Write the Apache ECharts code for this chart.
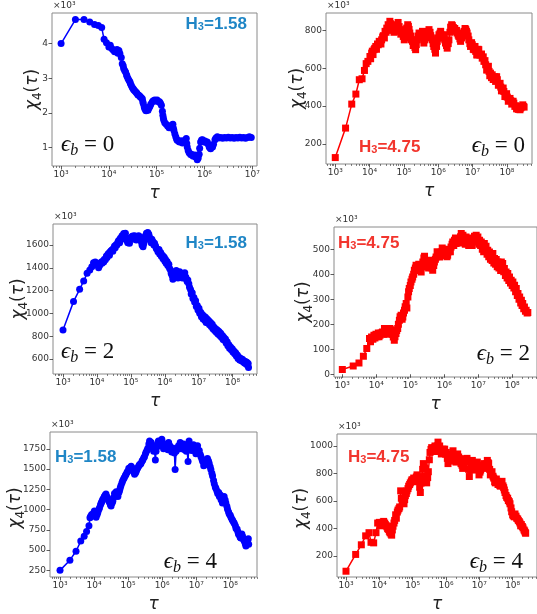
<!DOCTYPE html>
<html>
<head>
<meta charset="utf-8">
<script src="https://cdn.jsdelivr.net/npm/echarts@6/dist/echarts.min.js"></script>
<style>
  html, body { margin: 0; padding: 0; background: #ffffff; }
  #chart { width: 537px; height: 614px; }
</style>
</head>
<body>
<div id="chart"></div>
<script>
// chi_4(tau) in units of 10^3, points given as [log10(tau), chi_4]
const chi4_H158_eb0 = [
  [3.00,4.00],[3.30,4.69],[3.48,4.69],[3.60,4.62],[3.70,4.55],[3.78,4.52],[3.85,4.46],[3.90,4.12],[3.95,4.02],[4.00,3.90],
  [4.03,3.95],[4.06,3.86],[4.09,3.81],[4.12,3.76],[4.14,3.79],[4.17,3.83],[4.19,3.72],[4.21,3.80],[4.23,3.71],[4.26,3.60],
  [4.28,3.42],[4.30,3.36],[4.31,3.28],[4.33,3.22],[4.35,3.18],[4.37,3.10],[4.38,3.06],[4.40,2.99],[4.42,2.94],[4.44,2.90],
  [4.45,2.85],[4.47,2.79],[4.49,2.73],[4.51,2.70],[4.52,2.67],[4.54,2.64],[4.56,2.61],[4.58,2.58],[4.59,2.56],[4.61,2.52],
  [4.63,2.51],[4.65,2.48],[4.66,2.46],[4.68,2.44],[4.70,2.41],[4.71,2.33],[4.72,2.27],[4.74,2.18],[4.75,2.13],[4.77,2.08],
  [4.78,2.06],[4.80,2.10],[4.82,2.08],[4.84,2.14],[4.86,2.19],[4.88,2.26],[4.91,2.32],[4.93,2.35],[4.96,2.37],[4.98,2.34],
  [5.01,2.37],[5.03,2.33],[5.06,2.32],[5.08,2.28],[5.10,2.22],[5.12,2.05],[5.13,1.93],[5.14,1.85],[5.15,1.79],[5.17,1.72],
  [5.20,1.67],[5.23,1.62],[5.26,1.57],[5.28,1.62],[5.31,1.60],[5.33,1.66],[5.34,1.67],[5.35,1.56],[5.36,1.50],[5.38,1.40],
  [5.40,1.31],[5.42,1.24],[5.43,1.21],[5.46,1.18],[5.48,1.16],[5.51,1.20],[5.54,1.13],[5.56,1.18],[5.59,1.21],[5.62,1.26],
  [5.63,1.12],[5.64,1.02],[5.66,0.92],[5.68,0.85],[5.71,0.80],[5.73,0.81],[5.75,0.77],[5.77,0.75],[5.80,0.79],[5.82,0.73],
  [5.84,0.70],[5.85,0.65],[5.87,0.70],[5.89,0.81],[5.90,0.98],[5.92,1.16],[5.94,1.22],[5.96,1.23],[5.98,1.17],[6.01,1.19],
  [6.03,1.15],[6.06,1.16],[6.08,1.10],[6.10,1.02],[6.12,0.99],[6.13,0.97],[6.15,1.05],[6.17,1.02],[6.19,1.10],[6.22,1.23],
  [6.24,1.28],[6.27,1.31],[6.30,1.28],[6.34,1.29],[6.38,1.27],[6.42,1.29],[6.46,1.28],[6.50,1.30],[6.54,1.28],[6.58,1.29],
  [6.62,1.27],[6.66,1.29],[6.70,1.28],[6.74,1.30],[6.78,1.28],[6.82,1.29],[6.86,1.27],[6.90,1.29],[6.94,1.31],[6.98,1.29]
];

const chi4_H475_eb0 = [
  [3.00,127],[3.30,283],[3.48,410],[3.60,463],[3.70,539],[3.78,544],[3.85,588],[3.90,624],[3.95,636],[4.01,662],
  [4.03,650],[4.06,680],[4.08,690],[4.10,672],[4.13,698],[4.15,705],[4.18,715],[4.20,700],[4.23,728],[4.25,724],
  [4.28,742],[4.30,736],[4.33,728],[4.35,750],[4.38,765],[4.40,772],[4.43,760],[4.45,795],[4.48,790],[4.50,812],
  [4.52,805],[4.54,830],[4.57,815],[4.59,848],[4.61,835],[4.64,821],[4.66,800],[4.69,812],[4.71,790],[4.74,804],
  [4.76,820],[4.79,830],[4.81,815],[4.83,842],[4.86,820],[4.88,795],[4.91,780],[4.93,804],[4.96,785],[4.98,768],
  [5.01,750],[5.03,760],[5.06,790],[5.08,812],[5.11,830],[5.13,821],[5.15,805],[5.17,786],[5.20,770],[5.22,750],
  [5.25,742],[5.27,720],[5.29,733],[5.32,710],[5.34,698],[5.36,725],[5.39,750],[5.41,770],[5.44,786],[5.46,765],
  [5.49,777],[5.51,760],[5.54,795],[5.56,770],[5.58,733],[5.61,750],[5.63,768],[5.66,790],[5.68,786],[5.71,770],
  [5.73,804],[5.76,790],[5.78,772],[5.80,760],[5.83,750],[5.85,730],[5.87,715],[5.90,700],[5.92,680],[5.95,715],
  [5.97,742],[6.00,760],[6.02,777],[6.05,785],[6.07,795],[6.10,775],[6.12,760],[6.15,770],[6.17,777],[6.19,750],
  [6.21,733],[6.24,720],[6.26,706],[6.29,730],[6.31,750],[6.34,790],[6.36,817],[6.39,830],[6.41,825],[6.44,815],
  [6.46,804],[6.48,810],[6.50,795],[6.53,800],[6.55,786],[6.58,775],[6.60,768],[6.63,755],[6.65,742],[6.68,760],
  [6.70,777],[6.73,785],[6.75,795],[6.78,810],[6.80,804],[6.82,795],[6.84,786],[6.87,770],[6.89,750],[6.92,730],
  [6.94,715],[6.97,735],[6.99,724],[7.02,700],[7.04,698],[7.07,715],[7.09,689],[7.12,670],[7.14,671],[7.16,700],
  [7.18,698],[7.21,670],[7.23,671],[7.26,675],[7.28,653],[7.31,660],[7.33,636],[7.36,640],[7.38,618],[7.41,590],
  [7.43,592],[7.46,610],[7.48,583],[7.50,560],[7.52,574],[7.55,550],[7.57,565],[7.60,540],[7.62,548],[7.65,555],
  [7.67,530],[7.70,555],[7.72,539],[7.75,510],[7.77,512],[7.80,520],[7.82,500],[7.84,480],[7.86,489],[7.89,495],
  [7.91,477],[7.94,450],[7.96,459],[7.99,465],[8.01,447],[8.04,425],[8.06,436],[8.09,440],[8.11,428],[8.14,410],
  [8.16,419],[8.18,425],[8.20,415],[8.23,398],[8.25,401],[8.28,385],[8.30,398],[8.33,382],[8.36,394],[8.38,380],
  [8.40,389],[8.43,395],[8.46,406],[8.48,398],[8.50,394]
];

const chi4_H158_eb2 = [
  [3.00,854],[3.31,1103],[3.49,1211],[3.61,1284],[3.71,1351],[3.79,1381],[3.85,1410],[3.90,1445],[3.95,1451],[4.00,1440],
  [4.03,1420],[4.05,1400],[4.08,1420],[4.10,1440],[4.13,1450],[4.15,1440],[4.18,1460],[4.20,1450],[4.22,1474],[4.25,1470],
  [4.28,1504],[4.30,1490],[4.33,1520],[4.35,1527],[4.37,1510],[4.39,1540],[4.42,1550],[4.44,1556],[4.47,1545],[4.49,1571],
  [4.52,1590],[4.54,1575],[4.57,1605],[4.59,1600],[4.62,1625],[4.64,1640],[4.67,1620],[4.69,1660],[4.72,1650],[4.74,1680],
  [4.77,1670],[4.79,1700],[4.82,1680],[4.84,1702],[4.86,1665],[4.88,1640],[4.91,1620],[4.93,1650],[4.96,1615],[4.98,1660],
  [5.01,1650],[5.03,1675],[5.06,1679],[5.08,1660],[5.11,1680],[5.13,1650],[5.16,1644],[5.18,1665],[5.21,1658],[5.23,1680],
  [5.26,1673],[5.28,1650],[5.31,1629],[5.33,1600],[5.36,1585],[5.38,1610],[5.41,1640],[5.43,1680],[5.46,1702],[5.48,1690],
  [5.50,1710],[5.53,1695],[5.55,1670],[5.58,1650],[5.60,1620],[5.62,1650],[5.65,1630],[5.68,1600],[5.70,1615],[5.73,1590],
  [5.75,1570],[5.78,1560],[5.80,1540],[5.83,1560],[5.85,1520],[5.88,1535],[5.90,1500],[5.93,1510],[5.95,1480],[5.98,1495],
  [6.00,1460],[6.02,1475],[6.04,1440],[6.07,1455],[6.09,1420],[6.12,1430],[6.14,1395],[6.17,1380],[6.19,1350],[6.22,1330],
  [6.24,1300],[6.27,1340],[6.29,1357],[6.32,1330],[6.34,1375],[6.37,1345],[6.39,1310],[6.42,1350],[6.44,1366],[6.47,1330],
  [6.49,1346],[6.52,1310],[6.54,1340],[6.57,1320],[6.59,1357],[6.62,1320],[6.64,1300],[6.66,1280],[6.68,1293],[6.71,1260],
  [6.73,1230],[6.76,1210],[6.78,1170],[6.81,1180],[6.83,1130],[6.86,1140],[6.88,1100],[6.91,1110],[6.93,1060],[6.96,1070],
  [6.98,1030],[7.01,1045],[7.03,1000],[7.06,1010],[7.08,970],[7.11,990],[7.13,950],[7.16,975],[7.18,940],[7.20,965],
  [7.22,920],[7.25,950],[7.27,915],[7.30,935],[7.32,900],[7.35,920],[7.37,885],[7.40,905],[7.42,865],[7.45,880],
  [7.47,850],[7.50,865],[7.52,835],[7.55,855],[7.57,820],[7.60,840],[7.62,805],[7.65,825],[7.67,790],[7.70,805],
  [7.72,770],[7.74,790],[7.76,765],[7.79,775],[7.81,740],[7.84,750],[7.86,715],[7.89,725],[7.91,695],[7.94,705],
  [7.96,680],[7.99,690],[8.01,660],[8.04,670],[8.06,645],[8.09,655],[8.11,625],[8.14,635],[8.16,605],[8.19,615],
  [8.21,590],[8.24,605],[8.26,585],[8.29,598],[8.31,575],[8.33,585],[8.35,565],[8.38,578],[8.40,555],[8.42,570],
  [8.44,545],[8.46,560],[8.47,524]
];

const chi4_H475_eb2 = [
  [3.00,19],[3.32,33],[3.49,45],[3.62,72],[3.72,103],[3.80,143],[3.83,130],[3.86,149],[3.90,140],[3.93,156],
  [3.96,145],[3.99,160],[4.02,150],[4.06,165],[4.08,150],[4.11,156],[4.14,165],[4.18,169],[4.21,160],[4.24,183],
  [4.26,175],[4.29,169],[4.32,160],[4.36,176],[4.38,168],[4.40,183],[4.43,178],[4.45,169],[4.48,160],[4.50,149],
  [4.53,136],[4.55,150],[4.58,163],[4.60,175],[4.63,183],[4.65,200],[4.68,216],[4.70,230],[4.73,236],[4.76,220],
  [4.78,229],[4.80,245],[4.83,256],[4.85,270],[4.88,283],[4.90,265],[4.93,309],[4.95,330],[4.97,343],[5.00,355],
  [5.02,369],[5.05,380],[5.07,389],[5.10,400],[5.12,416],[5.15,425],[5.17,436],[5.19,420],[5.22,429],[5.25,440],
  [5.27,423],[5.30,415],[5.32,409],[5.35,430],[5.37,449],[5.40,465],[5.42,472],[5.45,455],[5.47,449],[5.49,430],
  [5.51,443],[5.54,425],[5.56,456],[5.59,445],[5.61,436],[5.64,425],[5.66,416],[5.69,435],[5.71,449],[5.74,460],
  [5.76,469],[5.79,490],[5.81,483],[5.84,475],[5.86,469],[5.89,480],[5.91,489],[5.94,505],[5.96,496],[5.99,475],
  [6.01,483],[6.04,500],[6.06,489],[6.08,470],[6.10,476],[6.13,490],[6.15,496],[6.18,490],[6.20,509],[6.23,520],
  [6.25,529],[6.28,515],[6.30,536],[6.33,545],[6.35,523],[6.38,530],[6.40,536],[6.43,525],[6.45,543],[6.48,550],
  [6.50,563],[6.53,545],[6.55,556],[6.58,530],[6.60,543],[6.62,520],[6.64,549],[6.67,530],[6.69,543],[6.72,515],
  [6.74,523],[6.77,545],[6.79,536],[6.82,515],[6.84,529],[6.87,540],[6.89,552],[6.92,535],[6.94,556],[6.97,530],
  [6.99,549],[7.02,520],[7.04,536],[7.07,515],[7.09,529],[7.12,500],[7.14,509],[7.16,490],[7.18,523],[7.21,495],
  [7.23,512],[7.26,480],[7.28,496],[7.31,470],[7.33,489],[7.36,460],[7.38,476],[7.41,455],[7.43,483],[7.46,445],
  [7.48,463],[7.51,440],[7.53,459],[7.56,430],[7.58,449],[7.61,425],[7.63,436],[7.66,415],[7.68,449],[7.70,420],
  [7.72,443],[7.75,410],[7.77,423],[7.80,395],[7.82,409],[7.85,385],[7.87,403],[7.90,375],[7.92,389],[7.95,365],
  [7.97,376],[8.00,355],[8.02,369],[8.05,345],[8.07,356],[8.10,330],[8.12,343],[8.15,315],[8.17,323],[8.20,300],
  [8.22,309],[8.25,285],[8.27,296],[8.29,275],[8.31,283],[8.34,262],[8.36,269],[8.39,252],[8.41,256],[8.44,245],
  [8.46,247]
];

const chi4_H158_eb4 = [
  [3.00,250],[3.29,376],[3.47,486],[3.61,611],[3.71,670],[3.78,729],[3.85,800],[3.88,900],[3.90,917],[3.93,940],
  [3.96,933],[3.99,960],[4.01,984],[4.04,950],[4.06,906],[4.09,940],[4.11,965],[4.14,1000],[4.16,1024],[4.19,1060],
  [4.21,1082],[4.23,1100],[4.25,1122],[4.28,1140],[4.30,1161],[4.33,1180],[4.35,1192],[4.38,1160],[4.40,1141],[4.43,1110],
  [4.45,1090],[4.48,1060],[4.50,1043],[4.53,1080],[4.55,1102],[4.58,1150],[4.60,1200],[4.63,1180],[4.65,1220],[4.68,1190],
  [4.70,1161],[4.73,1210],[4.75,1239],[4.77,1270],[4.79,1298],[4.82,1330],[4.84,1357],[4.87,1380],[4.89,1397],[4.92,1420],
  [4.94,1436],[4.97,1460],[4.99,1475],[5.02,1510],[5.04,1495],[5.07,1520],[5.09,1534],[5.12,1515],[5.14,1495],[5.17,1460],
  [5.19,1436],[5.22,1455],[5.24,1475],[5.26,1500],[5.28,1514],[5.31,1535],[5.33,1554],[5.36,1560],[5.38,1573],[5.41,1600],
  [5.43,1612],[5.46,1640],[5.48,1652],[5.51,1690],[5.53,1711],[5.56,1735],[5.58,1758],[5.61,1810],[5.63,1848],[5.66,1800],
  [5.68,1829],[5.70,1760],[5.73,1789],[5.75,1720],[5.77,1750],[5.80,1612],[5.82,1720],[5.84,1770],[5.87,1810],[5.89,1848],
  [5.92,1790],[5.94,1829],[5.97,1790],[5.99,1868],[6.02,1800],[6.04,1750],[6.07,1780],[6.09,1809],[6.12,1760],[6.14,1789],
  [6.17,1740],[6.19,1829],[6.22,1790],[6.24,1770],[6.26,1740],[6.28,1711],[6.31,1760],[6.33,1730],[6.36,1700],[6.38,1495],
  [6.41,1720],[6.43,1750],[6.46,1760],[6.48,1789],[6.51,1750],[6.53,1829],[6.56,1790],[6.58,1750],[6.61,1780],[6.63,1809],
  [6.66,1740],[6.68,1770],[6.71,1720],[6.73,1750],[6.76,1593],[6.79,1848],[6.81,1800],[6.84,1789],[6.86,1730],[6.89,1750],
  [6.92,1800],[6.94,1770],[6.97,1720],[6.99,1691],[7.02,1750],[7.04,1789],[7.07,1700],[7.09,1730],[7.12,1680],[7.14,1652],
  [7.17,1620],[7.19,1593],[7.22,1540],[7.24,1554],[7.26,1600],[7.28,1612],[7.31,1580],[7.33,1632],[7.36,1600],[7.38,1573],
  [7.41,1530],[7.43,1495],[7.46,1450],[7.48,1416],[7.51,1360],[7.53,1318],[7.56,1280],[7.58,1259],[7.61,1230],[7.63,1200],
  [7.66,1210],[7.68,1161],[7.71,1180],[7.73,1122],[7.75,1150],[7.77,1082],[7.80,1130],[7.82,1161],[7.85,1120],[7.87,1082],
  [7.90,1040],[7.92,1004],[7.95,970],[7.97,945],[8.00,930],[8.02,906],[8.05,880],[8.07,866],[8.10,845],[8.12,827],
  [8.15,800],[8.17,768],[8.20,760],[8.22,729],[8.24,700],[8.26,690],[8.29,660],[8.31,650],[8.34,700],[8.36,670],
  [8.39,630],[8.41,611],[8.44,580],[8.46,552],[8.49,600],[8.51,611],[8.53,640],[8.54,572]
];

const chi4_H475_eb4 = [
  [3.00,90],[3.29,212],[3.46,282],[3.59,347],[3.69,370],[3.75,300],[3.83,296],[3.90,370],[3.95,440],[4.00,445],
  [4.03,420],[4.07,436],[4.10,445],[4.13,452],[4.16,440],[4.18,429],[4.21,420],[4.23,412],[4.25,400],[4.27,394],
  [4.30,380],[4.32,370],[4.35,360],[4.37,352],[4.39,390],[4.41,417],[4.44,440],[4.46,459],[4.49,500],[4.51,475],
  [4.54,520],[4.56,534],[4.59,545],[4.61,557],[4.64,674],[4.66,620],[4.69,604],[4.71,590],[4.74,580],[4.76,610],
  [4.78,639],[4.81,655],[4.83,674],[4.86,690],[4.88,708],[4.91,720],[4.93,732],[4.96,745],[4.98,755],[5.01,740],
  [5.03,767],[5.06,745],[5.08,755],[5.11,775],[5.13,790],[5.16,760],[5.18,743],[5.21,700],[5.23,662],[5.25,730],
  [5.27,778],[5.30,830],[5.32,872],[5.35,850],[5.37,837],[5.40,780],[5.42,732],[5.45,770],[5.47,813],[5.50,900],
  [5.52,953],[5.55,975],[5.57,988],[5.60,960],[5.62,977],[5.65,990],[5.67,1000],[5.70,960],[5.72,977],[5.74,1000],
  [5.76,1028],[5.79,985],[5.81,1000],[5.84,960],[5.86,942],[5.89,960],[5.91,977],[5.94,950],[5.96,977],[5.99,940],
  [6.01,953],[6.04,910],[6.06,872],[6.09,900],[6.11,930],[6.14,890],[6.16,907],[6.19,940],[6.21,965],[6.23,935],
  [6.25,918],[6.28,900],[6.30,883],[6.33,915],[6.35,942],[6.38,920],[6.40,907],[6.43,890],[6.45,872],[6.48,860],
  [6.50,837],[6.53,880],[6.55,907],[6.58,900],[6.60,883],[6.63,910],[6.65,895],[6.68,830],[6.70,778],[6.73,830],
  [6.75,860],[6.77,880],[6.79,895],[6.82,860],[6.84,825],[6.87,845],[6.89,860],[6.92,870],[6.94,883],[6.97,840],
  [6.99,790],[7.02,810],[7.04,825],[7.07,850],[7.09,860],[7.12,845],[7.14,872],[7.17,850],[7.19,837],[7.22,870],
  [7.24,895],[7.26,880],[7.28,872],[7.31,830],[7.33,790],[7.36,800],[7.38,813],[7.41,780],[7.43,767],[7.46,740],
  [7.48,732],[7.51,760],[7.53,743],[7.56,720],[7.58,732],[7.61,715],[7.63,708],[7.66,730],[7.68,743],[7.71,710],
  [7.73,697],[7.75,680],[7.77,662],[7.80,640],[7.82,627],[7.85,620],[7.87,604],[7.90,595],[7.92,580],[7.95,550],
  [7.97,522],[8.00,500],[8.02,492],[8.05,485],[8.07,506],[8.10,490],[8.12,475],[8.15,470],[8.17,459],[8.20,450],
  [8.22,440],[8.24,420],[8.26,429],[8.29,415],[8.31,405],[8.34,390],[8.36,382],[8.38,370],[8.39,366]
];

// tick labels
const xDecades_short = [3, 4, 5, 6, 7];
const xDecades_long = [3, 4, 5, 6, 7, 8];
const yTicks_H158_eb0 = [1, 2, 3, 4];
const yTicks_H475_eb0 = [200, 400, 600, 800];
const yTicks_H158_eb2 = [600, 800, 1000, 1200, 1400, 1600];
const yTicks_H475_eb2 = [0, 100, 200, 300, 400, 500];
const yTicks_H158_eb4 = [250, 500, 750, 1000, 1250, 1500, 1750];
const yTicks_H475_eb4 = [200, 400, 600, 800, 1000];

const BLUE = '#0000ff', RED = '#ff0000';
const BLUE_TXT = '#1f86c6', RED_TXT = '#f2352d';

const panels = [
  { data: chi4_H158_eb0, yTicks: yTicks_H158_eb0, xTicks: xDecades_short, color: BLUE, txt: BLUE_TXT, symbol: 'circle', h: '1.58', eb: '0',
    grid: { left: 52, top: 13, width: 205, height: 153 }, x: [2.81, 7.10], y: [0.47, 4.88], yNameX: 34,
    hPos: [247, 24, 'right'], ePos: [61, 146, 'left'] },
  { data: chi4_H475_eb0, yTicks: yTicks_H475_eb0, xTicks: xDecades_long, color: RED, txt: RED_TXT, symbol: 'rect', h: '4.75', eb: '0',
    grid: { left: 326, top: 13, width: 206, height: 151 }, x: [2.73, 8.73], y: [93, 892], yNameX: 299,
    hPos: [359, 147, 'left'], ePos: [525, 147, 'right'] },
  { data: chi4_H158_eb2, yTicks: yTicks_H158_eb2, xTicks: xDecades_long, color: BLUE, txt: BLUE_TXT, symbol: 'circle', h: '1.58', eb: '2',
    grid: { left: 53, top: 224, width: 204, height: 150 }, x: [2.705, 8.72], y: [468, 1784], yNameX: 20,
    hPos: [247, 243, 'right'], ePos: [61, 353, 'left'] },
  { data: chi4_H475_eb2, yTicks: yTicks_H475_eb2, xTicks: xDecades_long, color: RED, txt: RED_TXT, symbol: 'rect', h: '4.75', eb: '2',
    grid: { left: 334, top: 227, width: 203, height: 150 }, x: [2.755, 8.73], y: [-11, 589], yNameX: 305,
    hPos: [338, 243, 'left'], ePos: [530, 355, 'right'] },
  { data: chi4_H158_eb4, yTicks: yTicks_H158_eb4, xTicks: xDecades_long, color: BLUE, txt: BLUE_TXT, symbol: 'circle', h: '1.58', eb: '4',
    grid: { left: 50, top: 432, width: 207, height: 152 }, x: [2.706, 8.785], y: [168, 1958], yNameX: 17,
    hPos: [55, 457, 'left'], ePos: [217, 563, 'right'] },
  { data: chi4_H475_eb4, yTicks: yTicks_H475_eb4, xTicks: xDecades_long, color: RED, txt: RED_TXT, symbol: 'rect', h: '4.75', eb: '4',
    grid: { left: 337, top: 434, width: 204, height: 149 }, x: [2.73, 8.73], y: [48, 1087], yNameX: 303,
    hPos: [348, 457, 'left'], ePos: [523, 563, 'right'] }
];

const SUP = { 3: '³', 4: '⁴', 5: '⁵', 6: '⁶', 7: '⁷', 8: '⁸' };
const TICK_COLOR = '#333333';
const FRAME = '#8a8a8a';

// minor tick positions (2..9 x 10^n) inside an axis range
function minorTicks(range) {
  const out = [];
  for (let n = 2; n <= 9; n++) {
    for (let k = 2; k <= 9; k++) {
      const v = n + Math.log10(k);
      if (v > range[0] && v < range[1]) out.push(v);
    }
  }
  return out;
}

const option = { animation: false, grid: [], xAxis: [], yAxis: [], series: [], graphic: [] };

panels.forEach((p, i) => {
  option.grid.push(Object.assign({ show: true, borderColor: FRAME, borderWidth: 1, backgroundColor: '#fff' }, p.grid));

  // major decade ticks with labels
  option.xAxis.push({
    type: 'value', gridIndex: i, position: 'bottom', min: p.x[0], max: p.x[1],
    name: 'τ', nameLocation: 'middle', nameGap: 19,
    nameTextStyle: { fontFamily: 'DejaVu Sans', fontStyle: 'italic', fontSize: 17, color: '#222' },
    axisLine: { show: false },
    axisTick: { show: true, customValues: p.xTicks, length: 3.5, lineStyle: { color: TICK_COLOR, width: 0.8 } },
    axisLabel: { customValues: p.xTicks, margin: 4, fontFamily: 'DejaVu Sans', fontSize: 9, color: '#333',
      formatter: v => '10' + SUP[Math.round(v)] },
    splitLine: { show: false }
  });
  // minor ticks
  option.xAxis.push({
    type: 'value', gridIndex: i, position: 'bottom', min: p.x[0], max: p.x[1],
    axisLine: { show: false },
    axisTick: { show: true, customValues: minorTicks(p.x), length: 2, lineStyle: { color: TICK_COLOR, width: 0.6 } },
    axisLabel: { show: false },
    splitLine: { show: false }
  });

  option.yAxis.push({
    type: 'value', gridIndex: i, min: p.y[0], max: p.y[1],
    axisLine: { show: false },
    axisTick: { show: true, customValues: p.yTicks, length: 3.5, lineStyle: { color: TICK_COLOR, width: 0.8 } },
    axisLabel: { customValues: p.yTicks, margin: 4, fontFamily: 'DejaVu Sans', fontSize: 9, color: '#333',
      formatter: v => String(v) },
    splitLine: { show: false }
  });

  option.series.push({
    type: 'line', xAxisIndex: 2 * i, yAxisIndex: i,
    data: p.data,
    symbol: p.symbol, symbolSize: 7,
    itemStyle: { color: p.color },
    lineStyle: { color: p.color, width: 1.5 },
    z: 3
  });

  // rotated y-axis title chi_4(tau)
  option.graphic.push({
    type: 'text', x: p.yNameX, y: p.grid.top + p.grid.height / 2, rotation: Math.PI / 2,
    style: {
      text: '{a|χ}{s|4}{b|(}{a|τ}{b|)}',
      align: 'center', verticalAlign: 'middle',
      rich: {
        a: { fontFamily: 'DejaVu Sans', fontStyle: 'italic', fontSize: 17, fill: '#222', verticalAlign: 'top' },
        b: { fontFamily: 'DejaVu Sans', fontSize: 17, fill: '#222', verticalAlign: 'top' },
        s: { fontFamily: 'DejaVu Sans', fontSize: 12, fill: '#222', verticalAlign: 'top', padding: [8, 0, 0, 0] }
      }
    },
    z: 10
  });

  // x10^3 multiplier above the y axis
  option.graphic.push({
    type: 'text', left: p.grid.left + 1, top: p.grid.top - 12,
    style: { text: '×10³', font: '9px "DejaVu Sans"', fill: '#333' }
  });

  // H3 label
  option.graphic.push({
    type: 'text', x: p.hPos[0], y: p.hPos[1],
    style: {
      text: '{h|H}{s|3}{h|=' + p.h + '}',
      align: p.hPos[2], verticalAlign: 'middle',
      rich: {
        h: { fontFamily: 'Liberation Sans', fontWeight: 'bold', fontSize: 17, fill: p.txt, verticalAlign: 'top' },
        s: { fontFamily: 'Liberation Sans', fontWeight: 'bold', fontSize: 11, fill: p.txt, verticalAlign: 'top', padding: [6, 0, 0, 0] }
      }
    },
    z: 10
  });

  // epsilon_b label
  option.graphic.push({
    type: 'text', x: p.ePos[0], y: p.ePos[1],
    style: {
      text: '{e|ϵ}{s|b}{n| = ' + p.eb + '}',
      align: p.ePos[2], verticalAlign: 'middle',
      rich: {
        e: { fontFamily: 'Liberation Serif', fontStyle: 'italic', fontSize: 23, fill: '#111', verticalAlign: 'top' },
        s: { fontFamily: 'Liberation Serif', fontStyle: 'italic', fontSize: 16, fill: '#111', verticalAlign: 'top', padding: [10, 0, 0, 0] },
        n: { fontFamily: 'Liberation Serif', fontSize: 23, fill: '#111', verticalAlign: 'top' }
      }
    },
    z: 10
  });
});

const chart = echarts.init(document.getElementById('chart'), null, { renderer: 'canvas' });
chart.setOption(option);
</script>
</body>
</html>
